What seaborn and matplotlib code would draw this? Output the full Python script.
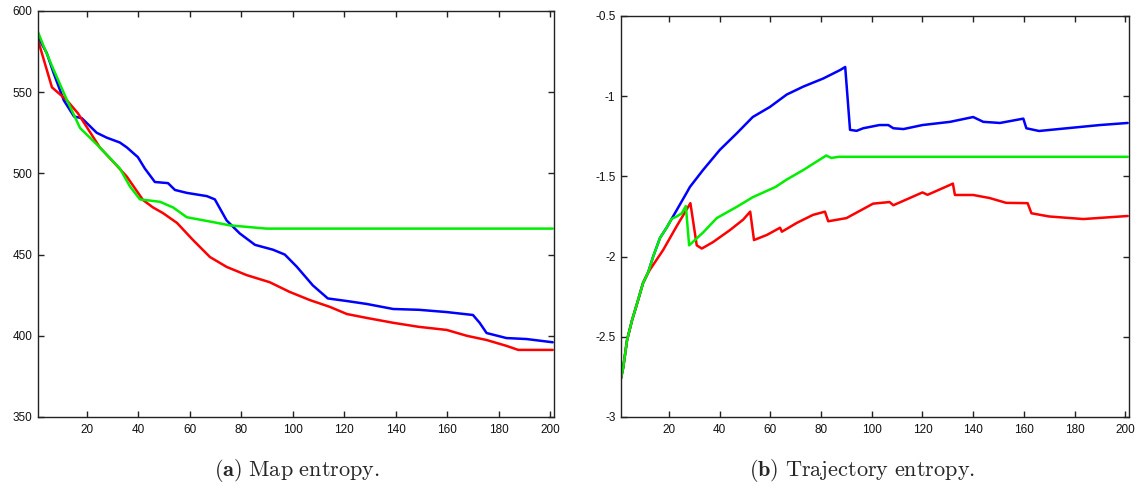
import numpy as np
import pandas as pd
import matplotlib
matplotlib.use("Agg")
import matplotlib.pyplot as plt
import seaborn as sns

# ---------------- (a) Map entropy ----------------
map_blue_x = [1, 4.4, 7, 11, 15, 18, 23.8, 27.7, 32.8, 35.5, 39.8, 42.5, 46.4, 51.5, 54.2,
              58.8, 66.6, 69.7, 74.3, 79.4, 85.3, 92.3, 96.9, 101.5, 107.8, 113.6, 121,
              128.7, 139, 149, 159.8, 170, 172.6, 175.3, 183, 190.8, 201]
map_blue_y = [584, 574, 562, 545, 535, 534, 525, 522, 519, 516, 510, 503, 494.7, 494, 489.8,
              488, 486, 484, 471, 463, 456, 453, 450, 442.6, 431, 423, 421.4,
              419.6, 416.5, 416, 414.6, 412.8, 408, 401.7, 398.6, 398, 396]

map_green_x = [1, 3, 7, 12, 17.3, 25, 32.8, 36.7, 40.6, 48.4, 53.5, 58.8, 69, 75.5, 89.7, 201]
map_green_y = [587, 579, 564, 546, 528, 516, 503, 492, 484, 482.5, 479, 473, 470, 468, 466, 466]

map_red_x = [1, 6.4, 12.2, 16.5, 25, 30.9, 35.5, 41.8, 45.7, 49.5, 55, 61.2, 67.8, 74.3,
             82, 91, 98.8, 106.6, 114.4, 121, 128.7, 139, 149, 159.8, 167.6, 175.3, 183,
             187.6, 201]
map_red_y = [582, 553, 545, 537, 516, 506, 498, 483.6, 479, 475.6, 469.5, 459, 448.5, 442.4,
             437.4, 433, 427, 422, 417.8, 413.4, 411, 408, 405.5, 403.6, 400, 397.4, 393.8,
             391.3, 391.3]

# ---------------- (b) Trajectory entropy ----------------
traj_blue_x = [1, 1.9, 3.4, 5.4, 7.4, 9.7, 11.7, 13.7, 16.4, 19.2, 21, 23, 27, 28.2, 33.4,
               40, 46.8, 53, 59.8, 66.4, 73, 80.8, 87.5, 89.5, 91.4, 94, 96.6, 103, 106.5,
               108.5, 112.5, 120, 130.9, 140, 144, 150.6, 159.8, 161, 166, 177, 190, 201]
traj_blue_y = [-2.76, -2.69, -2.52, -2.395, -2.29, -2.165, -2.10, -2.0, -1.884, -1.815,
               -1.765, -1.71, -1.60, -1.566, -1.46, -1.335, -1.23, -1.13, -1.067, -0.99,
               -0.94, -0.89, -0.837, -0.818, -1.21, -1.216, -1.20, -1.18, -1.18, -1.20,
               -1.205, -1.18, -1.16, -1.13, -1.16, -1.167, -1.14, -1.20, -1.217, -1.20,
               -1.18, -1.167]

traj_green_x = [1, 1.9, 3.4, 5.4, 7.4, 9.7, 11.7, 13.7, 16.4, 19.2, 21, 23, 25, 26.6, 27.9,
                33.4, 38.8, 46.7, 53, 62, 66.4, 73, 82, 84, 87, 201]
traj_green_y = [-2.76, -2.69, -2.52, -2.395, -2.29, -2.165, -2.10, -2.0, -1.884, -1.815,
                -1.765, -1.75, -1.73, -1.685, -1.93, -1.85, -1.76, -1.69, -1.63, -1.566,
                -1.52, -1.46, -1.37, -1.385, -1.378, -1.378]

traj_red_x = [1, 1.9, 3.4, 5.4, 7.4, 9.7, 11.7, 12.5, 17.6, 23, 28.4, 30.9, 32.9, 37.3,
              44, 49.2, 52, 53.5, 58.6, 63.8, 64.5, 70.4, 76.8, 81.5, 82.8, 90, 100.5, 107,
              108.5, 120, 122, 130.9, 132, 132.8, 140, 146.5, 153, 161.5, 163, 170, 183.5, 201]
traj_red_y = [-2.76, -2.69, -2.52, -2.395, -2.29, -2.165, -2.10, -2.08, -1.96, -1.81,
              -1.667, -1.93, -1.95, -1.91, -1.835, -1.77, -1.72, -1.897, -1.865, -1.82,
              -1.845, -1.79, -1.74, -1.72, -1.78, -1.76, -1.67, -1.66, -1.68, -1.60,
              -1.615, -1.553, -1.545, -1.616, -1.616, -1.635, -1.665, -1.667, -1.73,
              -1.75, -1.766, -1.747]

x_ticks = [20, 40, 60, 80, 100, 120, 140, 160, 180, 200]
map_y_ticks = [350, 400, 450, 500, 550, 600]
traj_y_ticks = [-3, -2.5, -2, -1.5, -1, -0.5]
traj_y_labels = ["-3", "-2.5", "-2", "-1.5", "-1", "-0.5"]

captions = [r"$\mathbf{(a)}\ \mathrm{Map\ entropy.}$",
            r"$\mathbf{(b)}\ \mathrm{Trajectory\ entropy.}$"]

palette = {"blue": "#0000ff", "red": "#ff0000", "green": "#00ee00"}
order = ["blue", "red", "green"]

sns.set_style("ticks")
plt.rcParams["font.family"] = ["Liberation Sans", "DejaVu Sans"]
plt.rcParams["axes.unicode_minus"] = False
plt.rcParams["mathtext.fontset"] = "cm"


def long_frame(series):
    parts = []
    for name, xs, ys in series:
        parts.append(pd.DataFrame({"x": xs, "y": ys, "run": name}))
    return pd.concat(parts, ignore_index=True)


fig = plt.figure(figsize=(11.39, 4.93), dpi=100)
ax_a = fig.add_axes([0.0334, 0.1542, 0.4530, 0.8235])
ax_b = fig.add_axes([0.5452, 0.1542, 0.4460, 0.8134])

df_a = long_frame([("blue", map_blue_x, map_blue_y),
                   ("red", map_red_x, map_red_y),
                   ("green", map_green_x, map_green_y)])
df_b = long_frame([("blue", traj_blue_x, traj_blue_y),
                   ("red", traj_red_x, traj_red_y),
                   ("green", traj_green_x, traj_green_y)])

for ax, df in [(ax_a, df_a), (ax_b, df_b)]:
    sns.lineplot(data=df, x="x", y="y", hue="run", hue_order=order, palette=palette,
                 estimator=None, sort=False, linewidth=1.8, legend=False, ax=ax)
    ax.set_xlim(1, 201.5)
    ax.set_xticks(x_ticks)
    ax.set_xlabel("")
    ax.set_ylabel("")
    for side in ["top", "right", "left", "bottom"]:
        ax.spines[side].set_visible(True)
        ax.spines[side].set_color("#222222")
        ax.spines[side].set_linewidth(1.0)
    ax.tick_params(direction="in", length=4, width=1, color="#222222",
                   top=True, right=True, labelsize=8.5, labelcolor="#111111")
    ax.tick_params(axis="x", pad=5)
    ax.tick_params(axis="y", pad=4)

ax_a.set_ylim(350, 600)
ax_a.set_yticks(map_y_ticks)
ax_a.set_yticklabels([str(v) for v in map_y_ticks])

ax_b.set_ylim(-3, -0.5)
ax_b.set_yticks(traj_y_ticks)
ax_b.set_yticklabels(traj_y_labels)

fig.text(0.261, 0.046, captions[0], ha="center", va="center", fontsize=16)
fig.text(0.757, 0.046, captions[1], ha="center", va="center", fontsize=16)

fig.savefig("out.png", dpi=100, facecolor="white")
